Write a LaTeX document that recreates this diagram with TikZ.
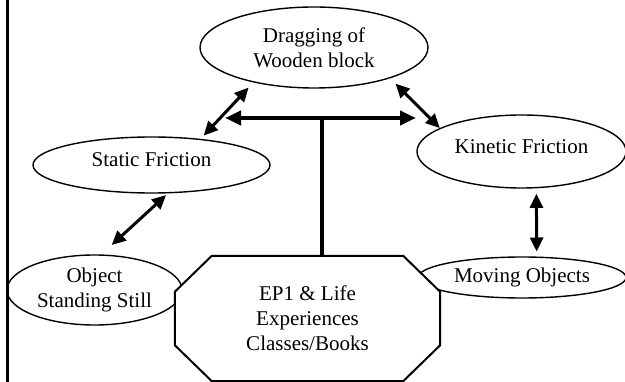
\documentclass[tikz,border=0pt]{standalone}
\usepackage{fontspec}
\setmainfont{Liberation Serif}
\usetikzlibrary{arrows.meta,shapes.geometric,backgrounds}

\begin{document}
\begin{tikzpicture}[x=1pt,y=-1pt,font=\fontsize{21}{25}\selectfont,
  bubble/.style={ellipse,draw,line width=1.4pt,fill=white,inner sep=0pt,align=center},
  dbl/.style={{Triangle[length=14pt,width=13pt]}-{Triangle[length=14pt,width=13pt]},line width=3pt},
  tee/.style={{Triangle[length=16pt,width=14pt]}-{Triangle[length=16pt,width=14pt]},line width=4pt}]
\useasboundingbox (0,0) rectangle (625,382);
\draw[line width=2.5pt] (7.5,0) -- (7.5,382);
\node[bubble,minimum width=228pt,minimum height=81pt] (drag) at (314,47.5) {Dragging of\\Wooden block};
\node[bubble,minimum width=237pt,minimum height=56pt,text depth=10pt] (static) at (151.5,165) {Static Friction};
\node[bubble,minimum width=209pt,minimum height=73pt,text depth=10pt] (kin) at (521.5,151.5) {Kinetic Friction};
\begin{scope}[on background layer]
 \node[bubble,minimum width=175pt,minimum height=70pt] (still) at (94.5,290) {Object\\Standing Still};
 \node[bubble,minimum width=208pt,minimum height=41pt] (moving) at (522,277.5) {Moving Objects};
\end{scope}
\node[minimum width=265pt,minimum height=125pt,inner sep=0pt,align=center] (ep) at (307.5,318.5) {EP1 \& Life\\Experiences\\Classes/Books};
\begin{scope}[on background layer]
 \draw[line width=2pt,fill=white] ([xshift=37pt]ep.north west) -- ([xshift=-37pt]ep.north east) -- ([yshift=-36pt]ep.north east)
  -- ([yshift=36pt]ep.south east) -- ([xshift=-37pt]ep.south east) -- ([xshift=37pt]ep.south west)
  -- ([yshift=36pt]ep.south west) -- ([yshift=-36pt]ep.north west) -- cycle;
\end{scope}
\coordinate (hub) at (322,118);
\coordinate (hubl) at (225,118);
\coordinate (hubr) at (416,118);
\draw[dbl,shorten <=7pt,shorten >=4.5pt] (drag.210) -- (static.28);
\draw[dbl,shorten <=7.5pt] (drag.338) -- (kin.164);
\draw[dbl,shorten <=2.5pt,shorten >=14pt] (static.300) -- (still.79);
\draw[dbl,shorten <=5.5pt,shorten >=5pt] (kin.292) -- (moving.55);
\draw[line width=4pt] (hub |- ep.north) -- (hub);
\draw[tee] (hubl) -- (hubr);
\end{tikzpicture}
\end{document}
